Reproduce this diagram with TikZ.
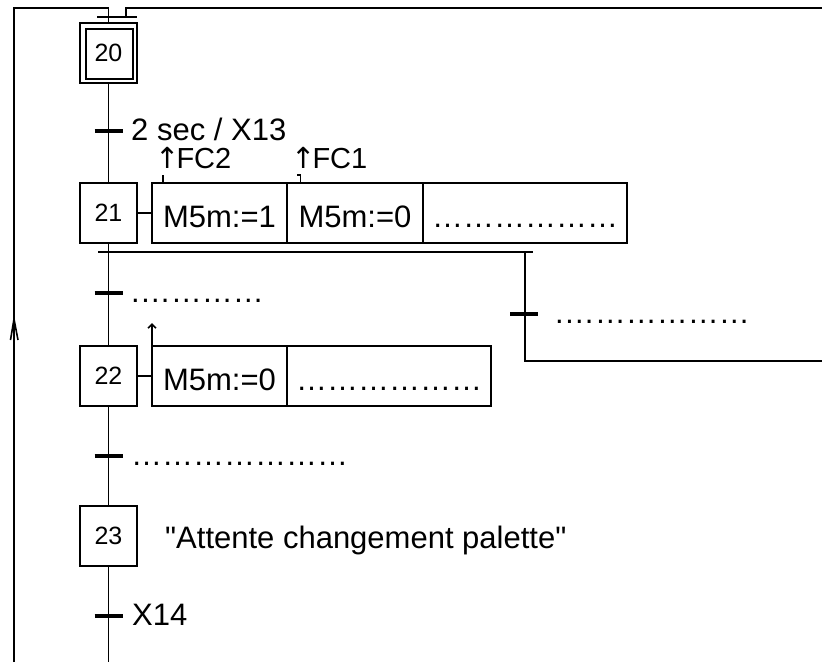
\documentclass[tikz,border=0pt]{standalone}
\usepackage{fontspec}
\setmainfont{Liberation Sans}
\newfontfamily\arrowfont{DejaVu Sans}
\usetikzlibrary{arrows.meta, positioning}
\newcommand{\ellip}{…}
\newcommand{\riseup}{{\arrowfont\kern-1pt↑\kern-3pt}}

\begin{document}
\begin{tikzpicture}[x=1pt, y=-1pt,
  stepbox/.style={draw, line width=1.6pt, minimum width=57pt, minimum height=60pt,
                  inner sep=0pt, outer sep=0pt, font=\fontsize{25pt}{30pt}\selectfont},
  action/.style={draw, line width=1.6pt, minimum height=60pt, inner sep=0pt, outer sep=0pt,
                 text height=29pt, text depth=0pt, font=\fontsize{31pt}{37pt}\selectfont},
  link/.style={line width=1.6pt},
  trans/.style={line width=4pt},
  cond/.style={anchor=base west, inner sep=0pt, font=\fontsize{31pt}{37pt}\selectfont},
  risecond/.style={anchor=base west, inner sep=0pt, font=\fontsize{29pt}{34pt}\selectfont}
]
  \useasboundingbox (0,0) rectangle (822,662);

  % steps
  \node[stepbox] (s20) at (108.5,53) {20};
  \draw[link] ([shift={(6,6)}]s20.north west) rectangle ([shift={(-4,-4)}]s20.south east);
  \node[stepbox] (s21) at (108.5,213) {21};
  \node[stepbox] (s22) at (108.5,376) {22};
  \node[stepbox] (s23) at (108.5,536) {23};

  % actions
  \node[action, minimum width=135pt, right=15pt of s21] (a21a) {M5m:=1};
  \node[action, minimum width=136pt, right=0pt of a21a] (a21b) {M5m:=0};
  \node[action, minimum width=204pt, right=0pt of a21b] (a21c) {\ellip\ellip\ellip\ellip\ellip\ellip};
  \node[action, minimum width=135pt, right=15pt of s22] (a22a) {M5m:=0};
  \node[action, minimum width=204pt, right=0pt of a22a] (a22b) {\ellip\ellip\ellip\ellip\ellip\ellip};
  \draw[link] (s21) -- (a21a);
  \draw[link] (s22) -- (a22a);
  \node[cond] (a23) at (165,548) {\textquotedbl Attente changement palette\textquotedbl};

  % conditions on actions
  \node[risecond] (fc2) at (156,168) {\riseup FC2};
  \node[risecond] (fc1) at (292,168) {\riseup FC1};
  \draw[link] ([xshift=11]a21a.north west) -- ++(0,-8);
  \draw[link] ([xshift=13.5]a21b.north west) -- ++(0,-8) -- ++(-3.5,0);
  \draw[link, -{Straight Barb[length=4pt,width=8pt]}] (a22a.north west) -- ++(0,-23);

  % main sequence
  \coordinate (bot) at (108.5,662);
  \draw[link] (s20) -- (s21);
  \draw[link] (s21) -- (s22);
  \draw[link] (s22) -- (s23);
  \draw[link] (s23) -- (bot);

  % divergence
  \coordinate (dl) at (98,252);
  \coordinate (dr) at (533,252);
  \coordinate (br) at (525,252);
  \coordinate (brc) at (525,361);
  \coordinate (brr) at (822,361);
  \draw[link] (dl) -- (dr);
  \draw[link] (br) -- (brc) -- (brr);

  % transitions
  \coordinate (t0) at (108.5,131);
  \coordinate (t1) at (108.5,293);
  \coordinate (tr) at (524,314);
  \coordinate (t2) at (108.5,456);
  \coordinate (t3) at (108.5,616);
  \foreach \t in {t0,t1,tr,t2,t3}
    \draw[trans] ([xshift=-14]\t) -- ([xshift=14]\t);
  \node[cond] (c0) at (131,140) {2 sec / X13};
  \node[cond] (c1) at (131,302) {.\ellip\ellip\ellip\ellip};
  \node[cond] (cr) at (555,323) {.\ellip\ellip\ellip\ellip\ellip\ellip};
  \node[cond] (c2) at (131,465) {\ellip\ellip\ellip\ellip\ellip\ellip\ellip};
  \node[cond] (c3) at (132,625) {X14};

  % loop back to step 20
  \coordinate (lb) at (14,662);
  \coordinate (lt) at (14,8);
  \coordinate (jl) at (108.5,8);
  \coordinate (syl) at (108.5,17);
  \coordinate (jr) at (126,8);
  \coordinate (syr) at (126,17);
  \coordinate (rt) at (822,8);
  \coordinate (sa) at (97,17);
  \coordinate (sb) at (137,17);
  \draw[link] (lb) -- (lt) -- (jl) -- (syl);
  \draw[link] (rt) -- (jr) -- (syr);
  \draw[link] (sa) -- (sb);
  \draw[link] (syl) -- (s20);
  \coordinate (la) at (14,319);
  \draw[link] (la) -- ++(-3.5,21) (la) -- ++(4,21);
\end{tikzpicture}
\end{document}
